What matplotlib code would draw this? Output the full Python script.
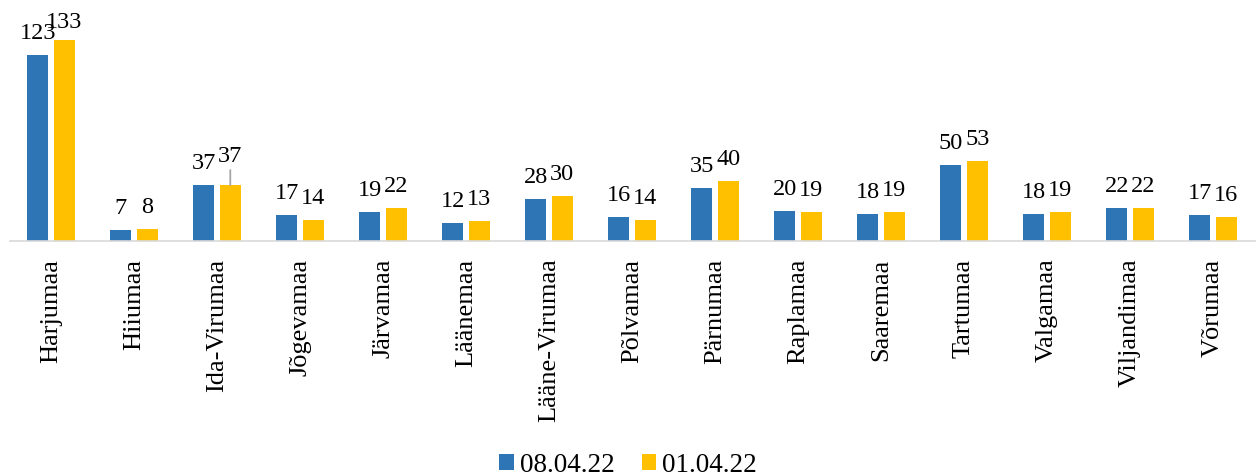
import matplotlib
matplotlib.use("Agg")
import matplotlib.pyplot as plt
import numpy as np

categories = ["Harjumaa", "Hiiumaa", "Ida-Virumaa", "Jõgevamaa", "Järvamaa", "Läänemaa",
              "Lääne-Virumaa", "Põlvamaa", "Pärnumaa", "Raplamaa", "Saaremaa", "Tartumaa",
              "Valgamaa", "Viljandimaa", "Võrumaa"]
series_names = ["08.04.22", "01.04.22"]
values_0804 = [123, 7, 37, 17, 19, 12, 28, 16, 35, 20, 18, 50, 18, 22, 17]
values_0104 = [133, 8, 37, 14, 22, 13, 30, 14, 40, 19, 19, 53, 19, 22, 16]

plt.rcParams['font.family'] = ['Liberation Serif', 'DejaVu Serif']

W, H = 1256, 477
fig = plt.figure(figsize=(W / 100, H / 100), dpi=100)
ax = fig.add_axes([9.5 / W, (H - 242) / H, 1245 / W, 232 / H])

x = np.arange(len(categories))
bw = 0.253
off = 0.16
b1 = ax.bar(x - off, values_0804, bw, color="#2E75B6", label=series_names[0])
b2 = ax.bar(x + off, values_0104, bw, color="#FFC000", label=series_names[1])

ax.set_xlim(-0.5, len(categories) - 0.5)
ax.set_ylim(0, 232 / 1.512)

vfs = 17.5
lfs = 19
for xi, v in zip(x - off, values_0804):
    ax.annotate(str(v), (xi, v), xytext=(0, 17), textcoords="offset pixels",
                ha="center", va="baseline", fontsize=vfs)
for i, (xi, v) in enumerate(zip(x + off, values_0104)):
    if categories[i] == "Ida-Virumaa":
        ax.annotate(str(v), (xi, v), xytext=(0, 24), textcoords="offset pixels",
                    ha="center", va="baseline", fontsize=vfs)
        ax.annotate("", (xi, v), xytext=(0, 15), textcoords="offset pixels",
                    arrowprops=dict(arrowstyle="-", color="#A6A6A6", lw=1.3,
                                    shrinkA=0, shrinkB=0))
    elif v == max(values_0104):
        ax.annotate(str(v), (xi, v), xytext=(0, 13), textcoords="offset pixels",
                    ha="center", va="baseline", fontsize=vfs)
    else:
        ax.annotate(str(v), (xi, v), xytext=(0, 17), textcoords="offset pixels",
                    ha="center", va="baseline", fontsize=vfs)

for s in ["top", "right", "left"]:
    ax.spines[s].set_visible(False)
ax.spines["bottom"].set_color("#D9D9D9")
ax.spines["bottom"].set_linewidth(1.2)
ax.set_yticks([])
ax.set_xticks(x)
ax.set_xticklabels(categories, rotation=90, fontsize=lfs)
ax.tick_params(axis="x", length=0, pad=12)

leg = fig.legend(handles=[b1, b2], labels=series_names, loc="center",
                 bbox_to_anchor=(0.5, (H - 466) / H), ncol=2, frameon=False,
                 fontsize=19.5, handlelength=0.55, handleheight=0.55,
                 handletextpad=0.2, columnspacing=1.0)

fig.savefig("out.png", dpi=100)
